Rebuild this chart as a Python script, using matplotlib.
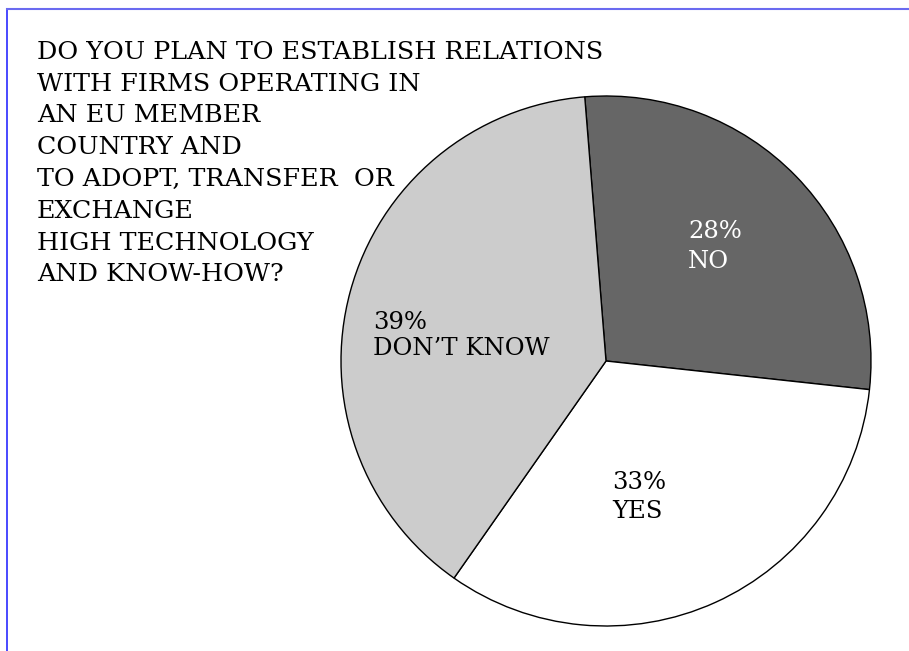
import matplotlib.pyplot as plt
from matplotlib.lines import Line2D

W, H = 909, 651

# survey answers
answers = ['NO', 'YES', 'DON\u2019T KNOW']
shares = [28, 33, 39]
colors = ['#666666', '#ffffff', '#cccccc']
label_colors = ['white', 'black', 'black']

question = [
    'DO YOU PLAN TO ESTABLISH RELATIONS',
    'WITH FIRMS OPERATING IN',
    'AN EU MEMBER',
    'COUNTRY AND',
    'TO ADOPT, TRANSFER  OR',
    'EXCHANGE',
    'HIGH TECHNOLOGY',
    'AND KNOW-HOW?',
]

serif = 'DejaVu Serif'

fig = plt.figure(figsize=(W / 100, H / 100), dpi=100)
ax = fig.add_axes([0, 0, 1, 1])

ax.pie(shares, colors=colors, startangle=94.6, counterclock=False,
       center=(606, H - 361), radius=265,
       wedgeprops={'edgecolor': 'black', 'linewidth': 1.0})
ax.set_xlim(0, W)
ax.set_ylim(0, H)
ax.set_aspect('equal')
ax.axis('off')

# question text, top-left
for i, line in enumerate(question):
    ax.text(37, H - (59 + 31.75 * i), line, fontsize=18.3, family=serif,
            ha='left', va='baseline', color='black')

# slice labels: (x, baseline of percent line, baseline of name line)
label_pos = [(688, 238, 268), (612, 489, 518), (373, 329, 355)]
for name, pct, col, (x, y1, y2) in zip(answers, shares, label_colors, label_pos):
    ax.text(x, H - y1, f'{pct}%', fontsize=17.5, family=serif,
            ha='left', va='baseline', color=col)
    ax.text(x, H - y2, name, fontsize=17.5, family=serif,
            ha='left', va='baseline', color=col)

# page frame (left and top edges)
fig.add_artist(Line2D([7.5 / W, 7.5 / W], [0, 1 - 9 / H],
                      transform=fig.transFigure, color='#2a2aff', lw=1.2))
fig.add_artist(Line2D([7.5 / W, 1], [1 - 9 / H, 1 - 9 / H],
                      transform=fig.transFigure, color='#6a6af0', lw=1.5))

fig.savefig('out.png', dpi=100)
